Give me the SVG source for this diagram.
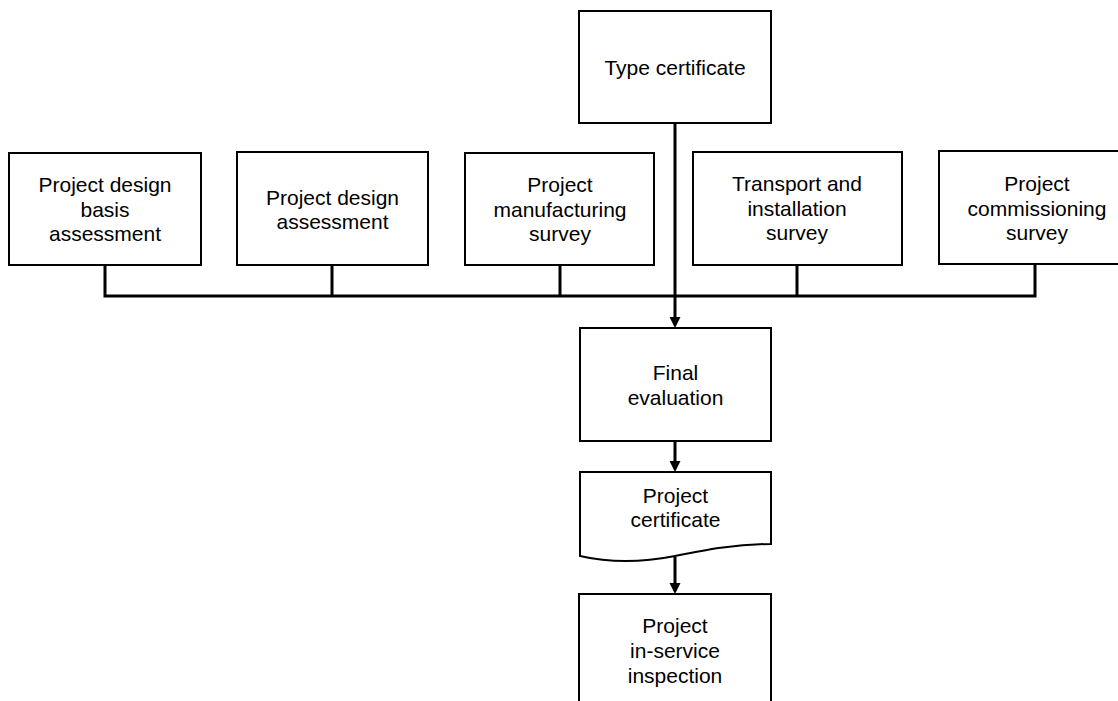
<svg xmlns="http://www.w3.org/2000/svg" width="1118" height="701" viewBox="0 0 1118 701">
<style>
.box{fill:#fff;stroke:#000;stroke-width:2}
.con{fill:none;stroke:#000;stroke-width:3}
text{font-family:"Liberation Sans",Arial,sans-serif;font-size:21px;fill:#000;text-anchor:middle}
</style>
<defs>
<marker id="arr" markerUnits="userSpaceOnUse" markerWidth="12" markerHeight="12" viewBox="0 0 12 12" refX="8" refY="6" orient="auto">
<path d="M0,0.5 L11,6 L0,11.5 Z" fill="#000"/>
</marker>
</defs>
<rect width="1118" height="701" fill="#fff"/>
<g id="connectors">
<path class="con" d="M105,265 V296 H1035 V264"/>
<path class="con" d="M332,265 V296"/>
<path class="con" d="M560,265 V296"/>
<path class="con" d="M797,265 V296"/>
<path class="con" d="M675,123 V325" marker-end="url(#arr)"/>
<path class="con" d="M675,441 V469" marker-end="url(#arr)"/>
<path class="con" d="M675,557 V591" marker-end="url(#arr)"/>
</g>
<g id="type-certificate">
<rect class="box" x="579" y="11" width="192" height="112"/>
<text x="675" y="75">Type certificate</text>
</g>
<g id="design-basis">
<rect class="box" x="9" y="153" width="192" height="112"/>
<text x="105" y="192">Project design</text>
<text x="105" y="216.5">basis</text>
<text x="105" y="241">assessment</text>
</g>
<g id="design-assessment">
<rect class="box" x="237" y="152" width="191" height="113"/>
<text x="332.5" y="205">Project design</text>
<text x="332.5" y="229">assessment</text>
</g>
<g id="manufacturing">
<rect class="box" x="465" y="153" width="189" height="112"/>
<text x="560" y="192">Project</text>
<text x="560" y="216.5">manufacturing</text>
<text x="560" y="241">survey</text>
</g>
<g id="transport">
<rect class="box" x="693" y="152" width="209" height="113"/>
<text x="797" y="191">Transport and</text>
<text x="797" y="216">installation</text>
<text x="797" y="240">survey</text>
</g>
<g id="commissioning">
<rect class="box" x="939" y="151" width="192" height="113"/>
<text x="1037" y="191">Project</text>
<text x="1037" y="215.5">commissioning</text>
<text x="1037" y="240">survey</text>
</g>
<g id="final-evaluation">
<rect class="box" x="580" y="328" width="191" height="113"/>
<text x="675.5" y="380">Final</text>
<text x="675.5" y="404.5">evaluation</text>
</g>
<g id="project-certificate">
<path class="box" d="M580,472 H771 V544 C735,544 705,550 675,556 C645,562 610,563 580,556 Z"/>
<text x="675.5" y="503">Project</text>
<text x="675.5" y="527">certificate</text>
</g>
<g id="in-service">
<rect class="box" x="579" y="594" width="192" height="130"/>
<text x="675" y="633">Project</text>
<text x="675" y="658">in-service</text>
<text x="675" y="683">inspection</text>
</g>
</svg>
